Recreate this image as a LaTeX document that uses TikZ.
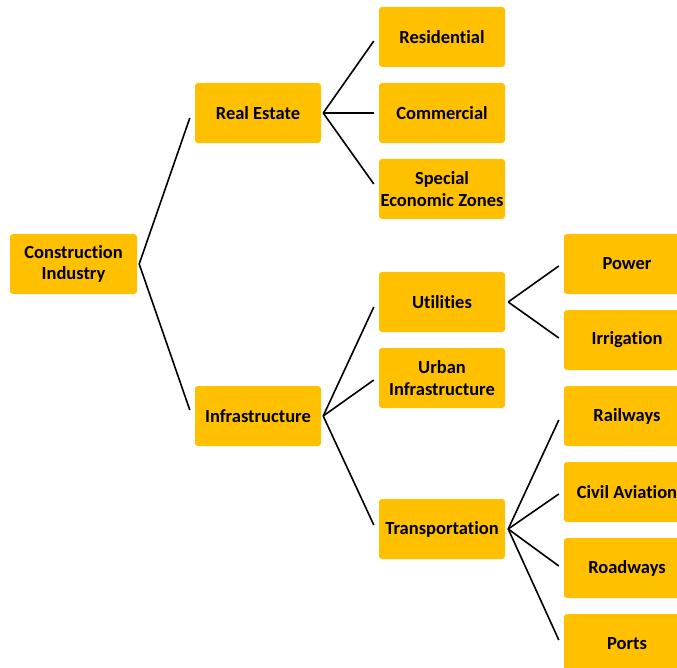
\documentclass[tikz,border=0pt]{standalone}
\usepackage{fontspec}
\setmainfont[Ligatures=NoCommon]{Carlito}
\definecolor{gold}{HTML}{FFC000}
\begin{document}
\begin{tikzpicture}[x=1pt,y=-1pt,
  box/.style={fill=gold, rounded corners=3pt, minimum width=126pt, minimum height=60pt,
    inner sep=0pt, align=center, font=\fontsize{18.5}{21.5}\selectfont\bfseries},
  link/.style={line width=1.6pt, black}]
\useasboundingbox (0,0) rectangle (677,668);
\clip (0,0) rectangle (677,668);
% nodes
\node[box, minimum width=127pt] (ci) at (73.5,264) {Construction\\Industry};
\node[box] (re)  at (258,113) {Real Estate};
\node[box] (inf) at (258,416) {Infrastructure};
\node[box] (res) at (442,37)  {Residential};
\node[box] (com) at (442,113) {Commercial};
\node[box] (sez) at (442,189) {Special\\Economic Zones};
\node[box] (uti) at (442,302) {Utilities};
\node[box] (urb) at (442,378) {Urban\\Infrastructure};
\node[box] (tra) at (442,529) {Transportation};
\node[box] (pow) at (627,264) {Power};
\node[box] (irr) at (627,340) {Irrigation};
\node[box] (rai) at (627,416) {Railways};
\node[box] (civ) at (627,492) {Civil Aviation};
\node[box] (roa) at (627,568) {Roadways};
\node[box] (por) at (627,644) {Ports};
% connectors
\draw[link] ([xshift=2pt]ci.east) -- ([shift={(-5,5)}]re.west);
\draw[link] ([xshift=2pt]ci.east) -- ([shift={(-5,-6)}]inf.west);
\draw[link] ([xshift=2pt]re.east) -- ([shift={(-5,4)}]res.west);
\draw[link] ([xshift=2pt]re.east) -- ([shift={(-5,0)}]com.west);
\draw[link] ([xshift=2pt]re.east) -- ([shift={(-5,-5)}]sez.west);
\draw[link] ([xshift=2pt]inf.east) -- ([shift={(-5,5)}]uti.west);
\draw[link] ([xshift=2pt]inf.east) -- ([shift={(-5,2)}]urb.west);
\draw[link] ([xshift=2pt]inf.east) -- ([shift={(-5,-4)}]tra.west);
\draw[link] ([xshift=3pt]uti.east) -- ([shift={(-5,2)}]pow.west);
\draw[link] ([xshift=3pt]uti.east) -- ([shift={(-5,-2)}]irr.west);
\draw[link] ([xshift=3pt]tra.east) -- ([shift={(-5,4)}]rai.west);
\draw[link] ([xshift=3pt]tra.east) -- ([shift={(-5,2)}]civ.west);
\draw[link] ([xshift=3pt]tra.east) -- ([shift={(-5,-2)}]roa.west);
\draw[link] ([xshift=3pt]tra.east) -- ([shift={(-5,-4)}]por.west);
\end{tikzpicture}
\end{document}
